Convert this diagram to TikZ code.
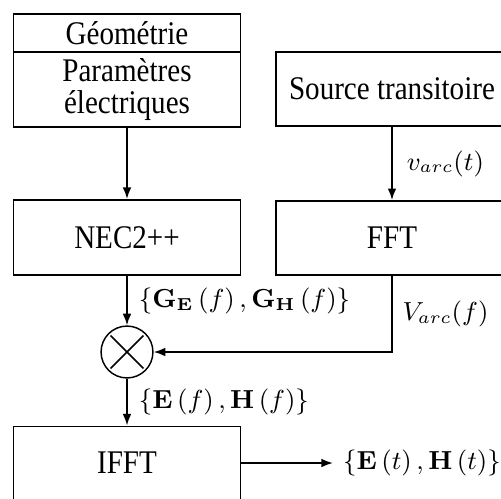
\documentclass[tikz,border=0pt]{standalone}
\usepackage[no-math]{fontspec}
\setmainfont{Liberation Serif}[FakeStretch=0.88]
\usetikzlibrary{arrows.meta}

\begin{document}
\begin{tikzpicture}[x=0.345pt, y=-0.345pt,
    bloc/.style={draw, line width=0.65pt, minimum width=78.3pt, inner sep=0pt,
        align=center, font=\fontsize{11.4}{11}\selectfont},
    blocdroit/.style={bloc, minimum width=80pt},
    etiq/.style={font=\fontsize{9}{11}\selectfont},
    fleche/.style={-{Latex[length=4pt,width=3pt]}, line width=0.6pt}]

    \useasboundingbox (0,0) rectangle (501,498);
    \clip (0,0) rectangle (501,498);

    %----- BLOCS DE GAUCHE -----
    \node[bloc, minimum height=13.1pt] (geom) at (127,33) {Géométrie};
    \node[bloc, minimum height=25.9pt] (param) at (127,89.5) {Paramètres\\électriques};
    \node[bloc, minimum height=25.9pt] (nec) at (127,237.5) {NEC2++};
    \node[draw, circle, line width=0.5pt, minimum size=17.9pt, inner sep=0pt] (mult) at (127,352) {};
    \draw[line width=0.6pt, shorten <=1.2pt, shorten >=1.2pt] (mult.north west) -- (mult.south east);
    \draw[line width=0.6pt, shorten <=1.2pt, shorten >=1.2pt] (mult.north east) -- (mult.south west);
    \node[bloc, minimum height=25.2pt] (ifft) at (127,463) {IFFT};

    %----- BLOCS DE DROITE -----
    \node[blocdroit, minimum height=25.5pt] (src) at (392,89) {Source transitoire};
    \node[blocdroit, minimum height=25.5pt] (fft) at (392,238) {FFT};

    %----- SORTIE -----
    \node[etiq, anchor=west] (sortie) at (333,463) {$\{\mathbf{E}\left(t\right),\mathbf{H}\left(t\right)\}$};

    %----- CONNEXIONS -----
    \draw[fleche] (param) -- (nec);
    \draw[fleche] (src) -- node[etiq, right, xshift=1.5pt] {$v_{arc}(t)$} (fft);
    \draw[fleche] (nec) -- node[etiq, right, xshift=0.5pt] {$\{\mathbf{G}_{\mathbf{E}}\left(f\right),\mathbf{G}_{\mathbf{H}}\left(f\right)\}$} (mult);
    \draw[fleche] (fft) |- node[etiq, pos=0.25, right] {$V_{arc}(f)$} (mult);
    \draw[fleche] (mult) -- node[etiq, right, xshift=0.5pt] {$\{\mathbf{E}\left(f\right),\mathbf{H}\left(f\right)\}$} (ifft);
    \draw[fleche] (ifft) -- (sortie);

\end{tikzpicture}
\end{document}
